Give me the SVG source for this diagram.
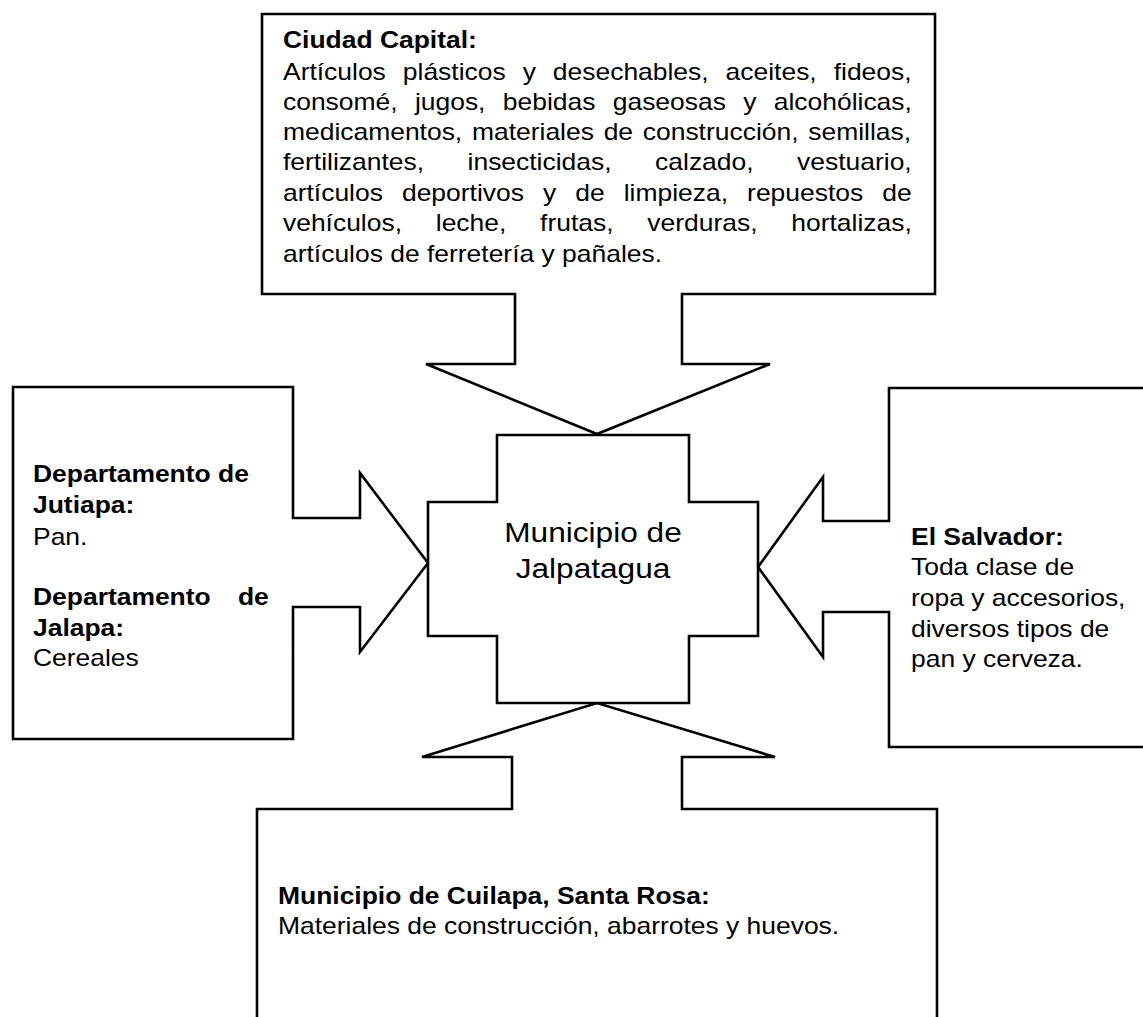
<svg xmlns="http://www.w3.org/2000/svg" width="1143" height="1017" viewBox="0 0 1143 1017">
  <style>
    .shape { fill: #ffffff; stroke: #000000; stroke-width: 2.6; stroke-linejoin: miter; }
    text { font-family: "Liberation Sans", Arial, sans-serif; font-size: 23px; fill: #000000; }
    .b { font-weight: bold; }
    .center { font-size: 27.5px; text-anchor: middle; }
  </style>
  <rect x="0" y="0" width="1143" height="1017" fill="#ffffff"/>

  <g id="connectors"></g>

  <g id="node-ciudad-capital">
    <path class="shape" d="M262,14 H935 V294 H682 V364 H770 L597,434 L426,364 H515 V294 H262 Z"/>
    <g transform="translate(283,0) scale(1.15,1)">
      <text class="b" x="0" y="48">Ciudad Capital:</text>
      <text x="0" y="80" word-spacing="8.4">Artículos plásticos y desechables, aceites, fideos,</text>
      <text x="0" y="110" word-spacing="8.7">consomé, jugos, bebidas gaseosas y alcohólicas,</text>
      <text x="0" y="140" word-spacing="2.1">medicamentos, materiales de construcción, semillas,</text>
      <text x="0" y="170" word-spacing="31.5">fertilizantes, insecticidas, calzado, vestuario,</text>
      <text x="0" y="201" word-spacing="10.2">artículos deportivos y de limpieza, repuestos de</text>
      <text x="0" y="231" word-spacing="23">vehículos, leche, frutas, verduras, hortalizas,</text>
      <text x="0" y="262">artículos de ferretería y pañales.</text>
    </g>
  </g>

  <g id="node-jutiapa-jalapa">
    <path class="shape" d="M13,387 H293 V518 H360 V473 L428,563 L360,652 V607 H293 V739 H13 Z"/>
    <g transform="translate(33,0) scale(1.15,1)">
      <text class="b" x="0" y="482">Departamento de</text>
      <text class="b" x="0" y="513">Jutiapa:</text>
      <text x="0" y="545">Pan.</text>
      <text class="b" x="0" y="605" word-spacing="17.3">Departamento de</text>
      <text class="b" x="0" y="636">Jalapa:</text>
      <text x="0" y="666">Cereales</text>
    </g>
  </g>

  <g id="node-el-salvador">
    <path class="shape" d="M889,388 H1152 V747 H889 V612 H823 V657 L758,567 L823,477 V521 H889 Z"/>
    <g transform="translate(911,0) scale(1.15,1)">
      <text class="b" x="0" y="545">El Salvador:</text>
      <text x="0" y="575">Toda clase de</text>
      <text x="0" y="606">ropa y accesorios,</text>
      <text x="0" y="637">diversos tipos de</text>
      <text x="0" y="667">pan y cerveza.</text>
    </g>
  </g>

  <g id="node-cuilapa">
    <path class="shape" d="M257,1030 V809 H512 V757 H422 L597,703 L775,757 H682 V809 H937 V1030 Z"/>
    <g transform="translate(278,0) scale(1.15,1)">
      <text class="b" x="0" y="904">Municipio de Cuilapa, Santa Rosa:</text>
      <text x="0" y="934">Materiales de construcción, abarrotes y huevos.</text>
    </g>
  </g>

  <g id="node-jalpatagua">
    <path class="shape" d="M497,435 H689 V502 H758 V636 H689 V703 H497 V636 H428 V502 H497 Z"/>
    <g transform="translate(593,0) scale(1.15,1)">
      <text class="center" x="0" y="542">Municipio de</text>
      <text class="center" x="0" y="578">Jalpatagua</text>
    </g>
  </g>
</svg>
